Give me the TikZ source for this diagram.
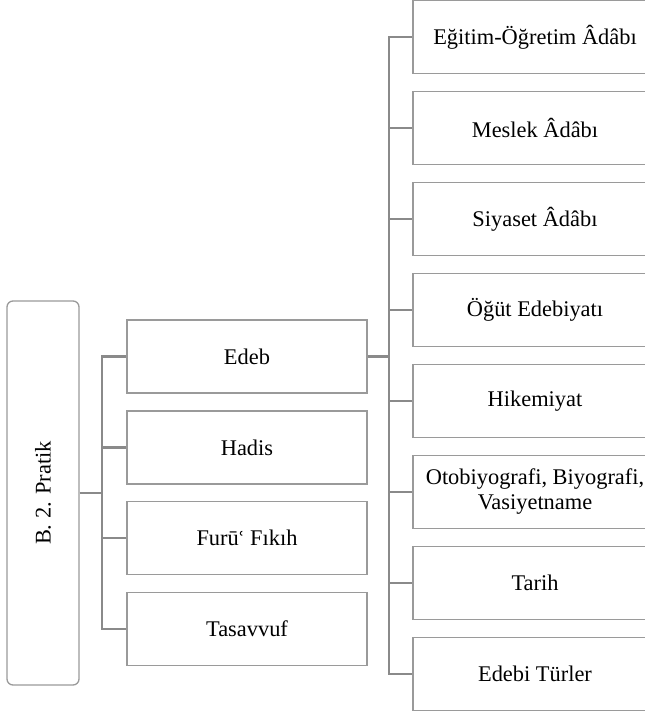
\documentclass[tikz,border=0pt]{standalone}
\usepackage{fontspec}
\setmainfont{Liberation Serif}
\newfontfamily\dvs{DejaVu Serif}
\definecolor{boxline}{HTML}{9A9A9A}
\definecolor{conline}{HTML}{8A8A8A}
\begin{document}
\begin{tikzpicture}[x=0.75pt,y=-0.75pt,
  every node/.style={font=\fontsize{16.8}{18.75}\selectfont},
  midbox/.style={draw=boxline,line width=1pt,minimum width=180pt,minimum height=54.75pt,inner sep=0pt,align=center},
  rbox/.style={draw=boxline,line width=1pt,minimum width=183pt,minimum height=54.75pt,inner sep=0pt,align=center},
  rootbox/.style={draw=boxline,line width=1pt,rounded corners=4.5pt,minimum width=54pt,minimum height=288pt,inner sep=0pt},
  conn/.style={draw=conline,line width=2pt}]
\useasboundingbox (0,0) rectangle (645,713);
\clip (0,0) rectangle (645,713);
% root
\node[rootbox] (root) at (43,493) {};
\node[rotate=90] (roottxt) at (root.center) {B. 2. Pratik};
% middle
\node[midbox] (m1) at (247,356.5) {Edeb};
\node[midbox] (m2) at (247,447.5) {Hadis};
\node[midbox] (m3) at (247,538) {Furū{\dvs\fontsize{14}{16}\selectfont ʿ} Fıkıh};
\node[midbox] (m4) at (247,629) {Tasavvuf};
% right
\node[rbox] (r1) at (535,37) {Eğitim-Öğretim Âdâbı};
\node[rbox] (r2) at (535,128) {Meslek Âdâbı};
\node[rbox] (r3) at (535,219) {Siyaset Âdâbı};
\node[rbox] (r4) at (535,310) {Öğüt Edebiyatı};
\node[rbox] (r5) at (535,401) {Hikemiyat};
\node[rbox] (r6) at (535,492) {Otobiyografi, Biyografi,\\Vasiyetname};
\node[rbox] (r7) at (535,583) {Tarih};
\node[rbox] (r8) at (535,674) {Edebi Türler};
% connectors
\coordinate (lt) at (102,493);
\coordinate (rt) at (389,356.5);
\draw[conn] (root.east) -- (lt);
\foreach \m in {m1,m2,m3,m4} \draw[conn] (lt) |- (\m.west);
\draw[conn] (m1.east) -- (rt);
\foreach \r in {r1,r2,r3,r4,r5,r6,r7,r8} \draw[conn] (rt) |- (\r.west);
\end{tikzpicture}
\end{document}
